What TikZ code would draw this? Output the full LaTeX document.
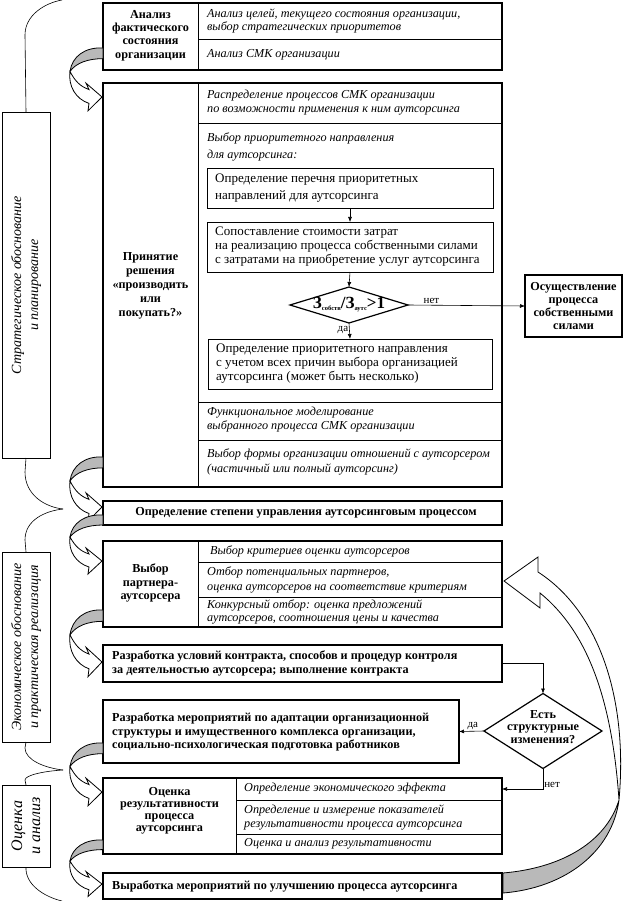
\documentclass[tikz,border=0pt]{standalone}
\usepackage{fontspec}
\setmainfont{Liberation Serif}
\usetikzlibrary{arrows.meta,shapes.geometric,calc}
\newcommand\uarr[2]{%
 \begin{scope}[shift={(103,#1)}, yscale={(#2-#1)/46}]
  \filldraw[fill=gray!55, line width=0.8pt] (0,0) .. controls (-18,-1) and (-31,8) .. (-33,22) .. controls (-27,14) and (-15,10) .. (0,10) -- cycle;
  \filldraw[fill=white, line width=0.8pt] (-33,22) .. controls (-28,31) and (-23,36) .. (-14,39) -- (-17,33) -- (-1,46) -- (-15,59) -- (-14,52) .. controls (-27,48) and (-35,36) .. (-33,22) -- cycle;
 \end{scope}}
\begin{document}
\begin{tikzpicture}[x=1pt,y=-1pt,
  sz/.style 2 args={minimum width=#1pt, minimum height=#2pt},
  frame/.style={draw, line width=1.5pt, anchor=north west, inner sep=0, outer sep=0},
  lframe/.style={draw, line width=0.6pt, anchor=north west, inner sep=0, outer sep=0},
  ibox/.style={draw, line width=0.9pt, anchor=north west, inner sep=0, outer sep=0},
  div/.style={line width=0.8pt},
  it/.style={font=\fontsize{12.2}{12.8}\selectfont\itshape, align=left, anchor=west, inner sep=0},
  bft/.style={font=\fontsize{12.2}{13.3}\selectfont\bfseries, align=center, inner sep=0},
  bfl/.style={font=\fontsize{12.2}{13.8}\selectfont\bfseries, align=left, anchor=west, inner sep=0},
  rmt/.style={font=\fontsize{13}{14}\selectfont, align=left, anchor=west, inner sep=0},
  arr/.style={-{Latex[length=5pt,width=4pt]}, line width=0.6pt},
  lab/.style={font=\fontsize{11}{12}\selectfont, inner sep=1pt},
  side/.style={font=\fontsize{14}{17}\selectfont\itshape, align=center, rotate=90, inner sep=0},
  brace/.style={line width=0.6pt},
  dia/.style={draw, diamond, line width=1.2pt, inner sep=0, outer sep=0},
]
\useasboundingbox (0,0) rectangle (624,901);
\fill[white] (0,0) rectangle (624,901);

% ---------- left side labels and braces
\node[lframe, sz={48}{346}] (L1) at (2,112) {};
\node[side] (L1t) at (L1.center) {Стратегическое обоснование\\и планирование};
\node[lframe, sz={48}{190}] (L2) at (2,552) {};
\node[side] (L2t) at (L2.center) {Экономическое обоснование\\и практическая реализация};
\node[lframe, sz={48}{82}] (L3) at (2,785) {};
\node[side, font=\fontsize{16}{18}\selectfont\itshape] (L3t) at (L3.center) {Оценка\\и анализ};

\draw[brace] (L1.north) -- (25,35) .. controls (25,15) and (45,3) .. (62,0);
\draw[brace] (L1.south) -- (25,472) .. controls (25,495) and (45,507) .. (63,509);
\draw[brace] (L2.north) -- (25,540) .. controls (25,520) and (45,511) .. (63,509);
\draw[brace] (L2.south) -- (25,748) .. controls (25,760) and (45,768) .. (63,770);
\draw[brace] (L3.north) -- (25,780) .. controls (25,775) and (45,771) .. (63,770);
\draw[brace] (L3.south) .. controls (25,885) and (45,897) .. (62,901);

% ---------- block 1
\node[frame, sz={399}{67}] (B1) at (103,3) {};
\draw[div] (198,3) -- (198,70);
\draw[div] (198,39) -- (502,39);
\node[bft] (B1t) at (150.5,35.5) {Анализ\\фактического\\состояния\\организации};
\node[it] (B1a) at (207,21) {Анализ целей, текущего состояния организации,\\выбор стратегических приоритетов};
\node[it] (B1b) at (207,55) {Анализ СМК организации};

% ---------- block 2
\node[frame, sz={399}{404}] (B2) at (103,83) {};
\draw[div] (198,83) -- (198,487);
\draw[div] (198,123) -- (502,123);
\draw[div] (198,402) -- (502,402);
\draw[div] (198,440) -- (502,440);
\node[bft, font=\fontsize{12.2}{14}\selectfont\bfseries] (B2t) at (150.5,286) {Принятие\\решения\\«производить\\или\\покупать?»};
\node[it, font=\fontsize{12.2}{14}\selectfont\itshape] (B2a) at (207,103) {Распределение процессов СМК организации\\по возможности применения к ним аутсорсинга};
\node[it, font=\fontsize{12.2}{17}\selectfont\itshape] (B2b) at (207,147) {Выбор приоритетного направления\\для аутсорсинга:};
\node[ibox, sz={286}{40}] (I1) at (207,168) {};
\node[rmt, font=\fontsize{13}{17}\selectfont] (I1t) at (215,188) {Определение перечня приоритетных\\направлений для аутсорсинга};
\node[ibox, sz={286}{50}] (I2) at (207,222) {};
\node[rmt] (I2t) at (215,247) {Сопоставление стоимости затрат\\на реализацию процесса собственными силами\\с затратами на приобретение услуг аутсорсинга};
\node[dia, minimum width=118pt, minimum height=36pt] (D1) at (349,305) {};
\node[inner sep=0, font=\bfseries] (D1t) at (D1.center) {\fontsize{17}{17}\selectfont З\raisebox{-2pt}{\fontsize{6.5}{7}\selectfont собств}/З\raisebox{-2pt}{\fontsize{6.5}{7}\selectfont аутс}>1};
\node[ibox, sz={284}{50}] (I3) at (208,339) {};
\node[rmt] (I3t) at (216,364) {Определение приоритетного направления\\с учетом всех причин выбора организацией\\аутсорсинга (может быть несколько)};
\node[it, font=\fontsize{12.2}{14}\selectfont\itshape] (B2c) at (207,420) {Функциональное моделирование\\выбранного процесса СМК организации};
\node[it, font=\fontsize{12.2}{15}\selectfont\itshape] (B2d) at (207,462) {Выбор формы организации отношений с аутсорсером\\(частичный или полный аутсорсинг)};

\node[frame, line width=2pt, sz={97}{62}] (O) at (525,275) {};
\node[bft] (Ot) at (O.center) {Осуществление\\процесса\\собственными\\силами};

\draw[arr] (I1.south) -- (I2.north);
\draw[arr] (I2.south) -- (D1.north);
\draw[arr] (D1.east) -- node[lab, above, pos=0.2] (net1) {нет} (O.west);
\draw[arr] (D1.south) -- node[lab, left, pos=0.45] (da1) {да} (I3.north);

% ---------- block 3
\node[frame, sz={399}{24}] (B3) at (103,501) {};
\node[bft] (B3t) at (306,513) {Определение степени управления аутсорсинговым процессом};

% ---------- block 4
\node[frame, sz={399}{86}] (B4) at (103,541) {};
\draw[div] (198,541) -- (198,627);
\draw[div] (198,562) -- (502,562);
\draw[div] (198,597) -- (502,597);
\node[bft, font=\fontsize{12.2}{13.5}\selectfont\bfseries] (B4t) at (150.5,583) {Выбор\\партнера-\\аутсорсера};
\node[it] (B4a) at (210,551.5) {Выбор критериев оценки аутсорсеров};
\node[it, font=\fontsize{12.2}{15}\selectfont\itshape] (B4b) at (207,579.5) {Отбор потенциальных партнеров,\\оценка аутсорсеров на соответствие критериям};
\node[it, font=\fontsize{12.2}{13.5}\selectfont\itshape] (B4c) at (207,612) {Конкурсный отбор: оценка предложений\\аутсорсеров, соотношения цены и качества};

% ---------- block 5
\node[frame, sz={399}{37}] (B5) at (103,645) {};
\node[bfl] (B5t) at (112,663.5) {Разработка условий контракта, способов и процедур контроля\\за деятельностью аутсорсера; выполнение контракта};

% ---------- block 6
\node[frame, sz={356}{63}] (B6) at (103,700) {};
\node[bfl, font=\fontsize{12.2}{13.5}\selectfont\bfseries] (B6t) at (112,732) {Разработка мероприятий по адаптации организационной\\структуры и имущественного комплекса организации,\\социально-психологическая подготовка работников};

\node[dia, minimum width=118pt, minimum height=75pt] (D2) at (543,731) {};
\node[bft, font=\fontsize{12.2}{12.5}\selectfont\bfseries] (D2t) at (543,727) {Есть\\структурные\\изменения?};

% ---------- block 7
\node[frame, sz={399}{76}] (B7) at (103,778) {};
\draw[div] (236,778) -- (236,854);
\draw[div] (236,800) -- (502,800);
\draw[div] (236,834) -- (502,834);
\node[bft, font=\fontsize{12.2}{12}\selectfont\bfseries] (B7t) at (169.5,811) {Оценка\\результативности\\процесса\\аутсорсинга};
\node[it] (B7a) at (244,789) {Определение экономического эффекта};
\node[it, font=\fontsize{12.2}{14}\selectfont\itshape] (B7b) at (244,817) {Определение и измерение показателей\\результативности процесса аутсорсинга};
\node[it] (B7c) at (244,844) {Оценка и анализ результативности};
\coordinate (B7r) at (502,789);

% ---------- block 8
\node[frame, sz={399}{26}] (B8) at (103,873) {};
\node[bfl] (B8t) at (112,886) {Выработка мероприятий по улучшению процесса аутсорсинга};

\draw[arr] (B5.east) -| (D2.north);
\draw[arr] (D2.west) -- node[lab, above, pos=0.45] (da2) {да} (B6.east);
\draw[arr] (D2.south) |- node[lab, right, pos=0.4] (net2) {нет} (B7r);

% ---------- left U-turn arrows
\uarr{48}{97}
\uarr{457}{507}
\uarr{515}{561}
\uarr{610}{662}
\uarr{743}{792}
\uarr{840}{884}

% ---------- big return arrow
\filldraw[fill=white, line width=0.8pt] (538,572) .. controls (600,612) and (628,700) .. (619,800) .. controls (612,700) and (588,632) .. (540,593) -- (540,608) -- (504,581) -- (538,557) -- cycle;
\filldraw[fill=gray!55, line width=0.8pt] (619,800) .. controls (612,852) and (565,888) .. (503,893) -- (503,873) .. controls (562,868) and (606,842) .. (619,800) -- cycle;
\end{tikzpicture}
\end{document}
